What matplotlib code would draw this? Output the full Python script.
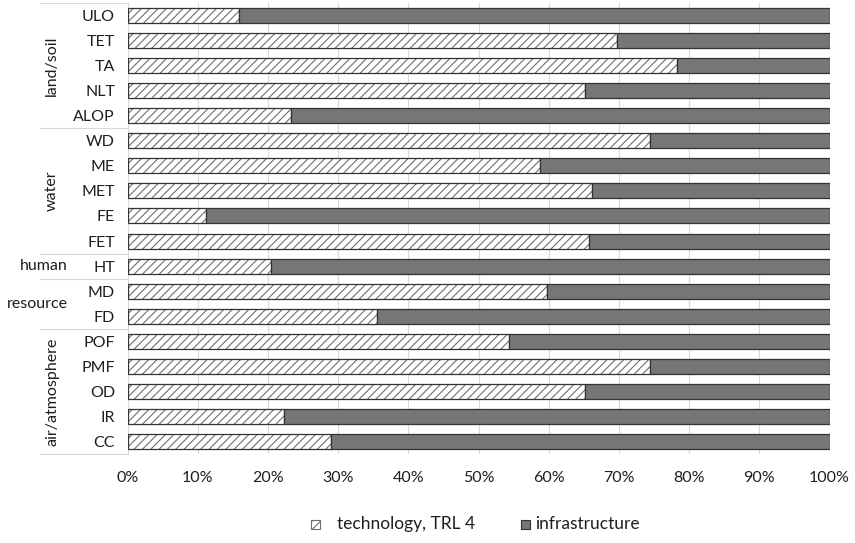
import matplotlib
matplotlib.use("Agg")
import matplotlib.pyplot as plt
from matplotlib.patches import Rectangle
import matplotlib.transforms as mtransforms

plt.rcParams['font.family'] = ['Lato', 'DejaVu Sans']
plt.rcParams['hatch.linewidth'] = 0.8

# Data (top to bottom)
categories = ["ULO", "TET", "TA", "NLT", "ALOP",
              "WD", "ME", "MET", "FE", "FET",
              "HT",
              "MD", "FD",
              "POF", "PMF", "OD", "IR", "CC"]
technology = [15.9, 69.8, 78.3, 65.1, 23.3,
              74.4, 58.7, 66.2, 11.2, 65.7,
              20.5,
              59.8, 35.6,
              54.4, 74.5, 65.1, 22.3, 29.0]
infrastructure = [100 - v for v in technology]
groups = ["land/soil", "water", "human", "resource", "air/atmosphere"]
group_sizes = [5, 5, 1, 2, 5]
group_rotated = [True, True, False, False, True]
series_names = ["technology, TRL 4", "infrastructure"]
xticks = [0, 10, 20, 30, 40, 50, 60, 70, 80, 90, 100]
xticklabels = [f"{t}%" for t in xticks]

W, H = 855, 543
fig = plt.figure(figsize=(W / 100, H / 100), dpi=100)
left, right, top, bottom = 127.5, 829.5, 3, 454
ax = fig.add_axes([left / W, 1 - bottom / H, (right - left) / W, (bottom - top) / H])

text_color = '#1e1e1e'
dark = '#767676'
edge = '#333333'
grid_c = '#d9d9d9'
fs = 11.5

y = list(range(len(categories)))
bh = 0.6
ax.barh(y, technology, height=bh, color='white', edgecolor='#6e6e6e',
        hatch='////', linewidth=0, zorder=2)
ax.barh(y, technology, height=bh, fill=False, edgecolor=edge, linewidth=0.9, zorder=3)
ax.barh(y, infrastructure, left=technology, height=bh, color=dark,
        edgecolor=edge, linewidth=0.9, zorder=3)

ax.set_xlim(0, 100)
ax.set_ylim(len(categories) - 0.5, -0.5)
ax.set_xticks(xticks)
ax.set_xticklabels(xticklabels)
ax.set_yticks(y)
ax.set_yticklabels(categories)
ax.tick_params(axis='both', length=0, labelsize=fs, colors=text_color)
ax.tick_params(axis='x', pad=12)
ax.tick_params(axis='y', pad=9)
ax.xaxis.grid(True, color=grid_c, linewidth=0.8, zorder=0)
ax.set_axisbelow(True)
for s in ['top', 'right', 'bottom']:
    ax.spines[s].set_visible(False)
ax.spines['left'].set_color(grid_c)
ax.spines['left'].set_linewidth(0.8)

# Group separators and labels
trans = mtransforms.blended_transform_factory(ax.transAxes, ax.transData)
x_line = (40 - left) / (right - left)
x_rot = (52 - left) / (right - left)
x_hor = (68 - left) / (right - left)
start = 0
bounds = [-0.5]
for g, n, rot in zip(groups, group_sizes, group_rotated):
    end = start + n
    bounds.append(end - 0.5)
    center = start + (n - 1) / 2
    if rot:
        ax.text(x_rot, center, g, rotation=90, ha='center', va='center',
                transform=trans, fontsize=fs, color=text_color)
    else:
        ax.text(x_hor, center, g, ha='right', va='center',
                transform=trans, fontsize=fs, color=text_color)
    start = end
for b in bounds:
    ax.plot([x_line, 0], [b, b], transform=trans, color=grid_c,
            linewidth=0.8, clip_on=False)

# Legend (manual)
ly = 524
sq = 9
fig.patches.append(Rectangle((311 / W, 1 - (ly + sq / 2) / H), sq / W, sq / H,
                             transform=fig.transFigure, facecolor='white',
                             edgecolor='#6e6e6e', hatch='////', linewidth=0.8))
fig.text(337 / W, 1 - ly / H, series_names[0], ha='left', va='center',
         fontsize=12.5, color=text_color)
fig.patches.append(Rectangle((521 / W, 1 - (ly + sq / 2) / H), sq / W, sq / H,
                             transform=fig.transFigure, facecolor=dark,
                             edgecolor=edge, linewidth=0.8))
fig.text(535 / W, 1 - ly / H, series_names[1], ha='left', va='center',
         fontsize=12.5, color=text_color)

fig.savefig("out.png", dpi=100)
